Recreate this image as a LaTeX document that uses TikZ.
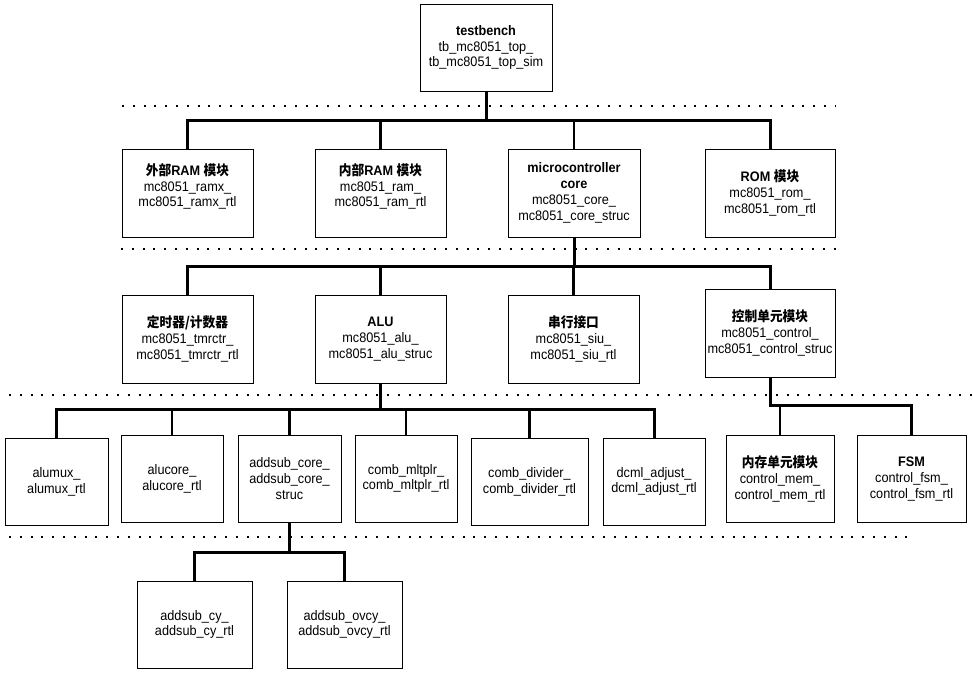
\documentclass[tikz,border=0pt]{standalone}
\usepackage{fontspec}
\setmainfont{Liberation Sans}[FakeStretch=0.92]
\newfontfamily\cjk{Noto Sans CJK SC}[FakeStretch=0.92]
\newcommand{\hz}[1]{{\cjk #1}}
\tikzset{
	modbox/.style={draw, line width=0.9pt, inner sep=1pt, align=center, minimum height=87pt, font=\fontsize{13.8}{15.8}\selectfont},
	busline/.style={line width=3pt},
	dropline/.style={line width=2.7pt},
	dotrow/.style={line width=2pt, dash pattern=on 2pt off 8.8pt}
}

\begin{document}
\begin{tikzpicture}[x=1pt,y=-1pt]
				\useasboundingbox (0,0) rectangle (973,680);
				
				\draw[dotrow] (122,106) -- (835,106);
				\draw[dotrow] (121,249) -- (836,249);
				\draw[dotrow] (9,395) -- (973,395);
				\draw[dotrow] (9,537) -- (910,537);
				
				\node[modbox, minimum width=132pt] (tb) at (486,47.5) {\textbf{testbench}\\tb\_mc8051\_top\_\\tb\_mc8051\_top\_sim};
				
				\node[modbox, minimum width=131pt, minimum height=88pt] (ramx) at (187.5,193) {\textbf{\hz{外部}RAM \hz{模块}}\\mc8051\_ramx\_\\mc8051\_ramx\_rtl\\ \mbox{}};
				\node[modbox, minimum width=131pt, minimum height=88pt] (ram) at (380.5,193) {\textbf{\hz{内部}RAM \hz{模块}}\\mc8051\_ram\_\\mc8051\_ram\_rtl\\ \mbox{}};
				\node[modbox, minimum width=132pt, minimum height=88pt] (core) at (574,193) {\textbf{microcontroller}\\\textbf{core}\\mc8051\_core\_\\mc8051\_core\_struc};
				\node[modbox, minimum width=130pt, minimum height=88pt] (rom) at (770,193) {\textbf{ROM \hz{模块}}\\mc8051\_rom\_\\mc8051\_rom\_rtl};
				
				\node[modbox, minimum width=131pt, minimum height=88pt] (tmr) at (187.5,339) {\textbf{\hz{定时器/计数器}}\\mc8051\_tmrctr\_\\mc8051\_tmrctr\_rtl};
				\node[modbox, minimum width=131pt, minimum height=88pt] (alu) at (380.5,339) {\textbf{ALU}\\mc8051\_alu\_\\mc8051\_alu\_struc};
				\node[modbox, minimum width=131pt, minimum height=88pt] (siu) at (573.5,339) {\textbf{\hz{串行接口}}\\mc8051\_siu\_\\mc8051\_siu\_rtl};
				\node[modbox, minimum width=130pt, minimum height=88pt] (ctrl) at (770,333) {\textbf{\hz{控制单元模块}}\\mc8051\_control\_\\mc8051\_control\_struc};
				
				\node[modbox, minimum width=103pt] (alumux) at (56.5,481.5) {alumux\_\\alumux\_rtl};
				\node[modbox, minimum width=102pt] (alucore) at (172,478.5) {alucore\_\\alucore\_rtl};
				\node[modbox, minimum width=103pt] (addsub) at (289.5,478.5) {addsub\_core\_\\addsub\_core\_\\struc};
				\node[modbox, minimum width=102pt] (mltplr) at (406,478.5) {comb\_mltplr\_\\comb\_mltplr\_rtl};
				\node[modbox, minimum width=117pt] (divider) at (529.5,481.5) {comb\_divider\_\\comb\_divider\_rtl};
				\node[modbox, minimum width=102pt] (dcml) at (654,481.5) {dcml\_adjust\_\\dcml\_adjust\_rtl};
				\node[modbox, minimum width=108pt] (mem) at (780,479) {\textbf{\hz{内存单元模块}}\\control\_mem\_\\control\_mem\_rtl};
				\node[modbox, minimum width=109pt] (fsm) at (911.5,479) {\textbf{FSM}\\control\_fsm\_\\control\_fsm\_rtl};
				
				\node[modbox, minimum width=115pt] (cy) at (194.5,624.5) {addsub\_cy\_\\addsub\_cy\_rtl};
				\node[modbox, minimum width=115pt] (ovcy) at (344.5,624.5) {addsub\_ovcy\_\\addsub\_ovcy\_rtl};
				
				\coordinate (b1) at (0,120);
				\coordinate (b2) at (0,266);
				\coordinate (b3) at (0,409);
				\coordinate (b3c) at (0,405);
				\coordinate (b4) at (0,552);
				
				\draw[busline] (tb.south) -- (tb.south |- b1);
				\draw[busline] (ramx.north) |- (b1 -| rom.north) -- (rom.north);
				\draw[dropline] (ram.north) -- (ram.north |- b1);
				\draw[dropline] (core.north) -- (core.north |- b1);
				
				\draw[busline] (core.south) -- (core.south |- b2);
				\draw[busline] (tmr.north) |- (b2 -| ctrl.north) -- (ctrl.north);
				\draw[dropline] (alu.north) -- (alu.north |- b2);
				\draw[dropline] (siu.north) -- (siu.north |- b2);
				
				\draw[busline] (alu.south) -- (alu.south |- b3);
				\draw[busline] (alumux.north) |- (b3 -| dcml.north) -- (dcml.north);
				\draw[dropline] (alucore.north) -- (alucore.north |- b3);
				\draw[dropline] (addsub.north) -- (addsub.north |- b3);
				\draw[dropline] (mltplr.north) -- (mltplr.north |- b3);
				\draw[dropline] (divider.north) -- (divider.north |- b3);
				
				\draw[busline] (ctrl.south) |- (b3c -| fsm.north) -- (fsm.north);
				\draw[dropline] (mem.north) -- (mem.north |- b3c);
				
				\draw[busline] (addsub.south) -- (addsub.south |- b4);
				\draw[busline] (cy.north) |- (b4 -| ovcy.north) -- (ovcy.north);
\end{tikzpicture}
\end{document}
